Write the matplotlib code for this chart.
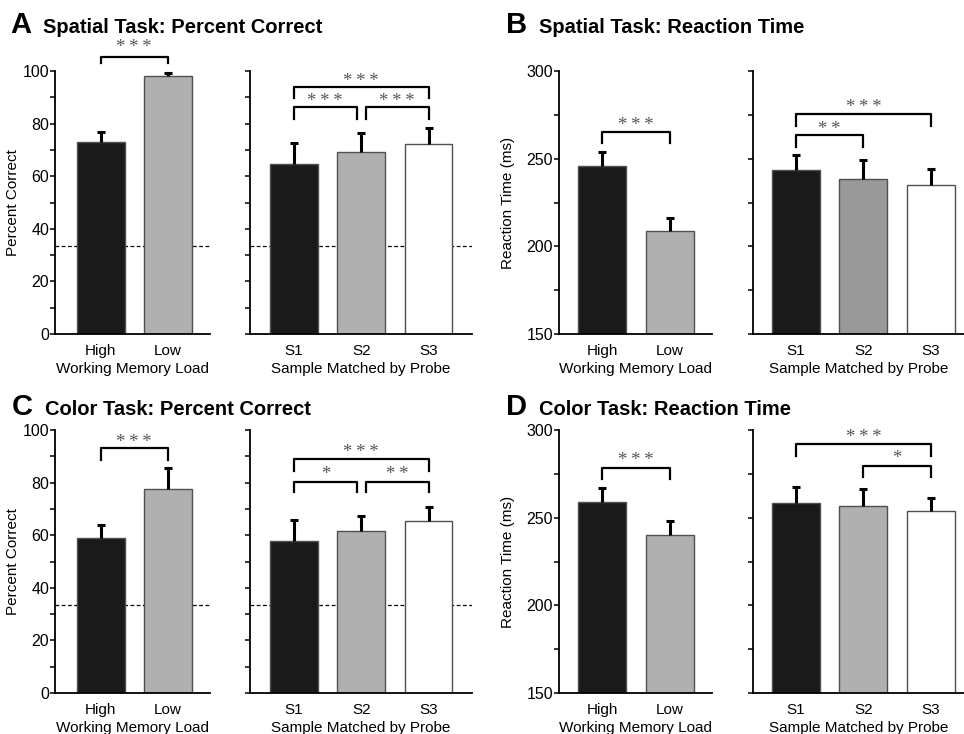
import matplotlib.pyplot as plt
from matplotlib.ticker import MultipleLocator

plt.rcParams['font.family'] = ['Liberation Sans', 'DejaVu Sans']

# ---- data ----
load_labels = ['High', 'Low']
sample_labels = ['S1', 'S2', 'S3']

# A: spatial task, percent correct
spa_pc_load = [73.0, 98.0]
spa_pc_load_err = [4.0, 1.5]
spa_pc_samp = [64.7, 69.2, 72.3]
spa_pc_samp_err = [7.8, 7.3, 6.2]

# B: spatial task, reaction time
spa_rt_load = [246.0, 209.0]
spa_rt_load_err = [8.0, 7.0]
spa_rt_samp = [243.5, 238.5, 235.0]
spa_rt_samp_err = [8.5, 11.0, 9.0]

# C: color task, percent correct
col_pc_load = [59.0, 77.5]
col_pc_load_err = [4.8, 8.0]
col_pc_samp = [57.7, 61.5, 65.5]
col_pc_samp_err = [8.0, 6.0, 5.3]

# D: color task, reaction time
col_rt_load = [259.0, 240.0]
col_rt_load_err = [8.0, 8.0]
col_rt_samp = [258.5, 256.5, 254.0]
col_rt_samp_err = [9.0, 10.0, 7.5]

chance = 33.3

# significance brackets: (i, j, top, leg_bottom, stars, star_y)
spa_pc_load_sig = [(0, 1, 105.3, 103.0, '***', 109.0)]
spa_pc_samp_sig = [(0, 2, 93.9, 89.7, '***', 96.0),
                   (0, 0.93, 86.3, 81.7, '***', 88.5),
                   (1.07, 2, 86.3, 81.7, '***', 88.5)]
spa_rt_load_sig = [(0, 1, 265.2, 258.9, '***', 269.2)]
spa_rt_samp_sig = [(0, 2, 275.5, 268.7, '***', 279.5),
                   (0, 1, 263.5, 256.7, '**', 267.0)]
col_pc_load_sig = [(0, 1, 93.1, 88.5, '***', 95.3)]
col_pc_samp_sig = [(0, 2, 88.9, 84.4, '***', 91.5),
                   (0, 0.93, 80.2, 76.3, '*', 83.1),
                   (1.07, 2, 80.2, 76.3, '**', 83.1)]
col_rt_load_sig = [(0, 1, 278.4, 272.0, '***', 282.5)]
col_rt_samp_sig = [(0, 2, 292.0, 285.0, '***', 296.1),
                   (1, 2, 279.5, 273.0, '*', 284.1)]

BLACK = '#1a1a1a'
GRAY = '#b0b0b0'
DGRAY = '#999999'

fig = plt.figure(figsize=(9.64, 7.34), dpi=100)


def panel(rect, xlim, vals, errs, labels, colors, ylim, major, minor,
          sig, xlabel, ylabel=None, chance_line=False, show_labels=True):
    ax = fig.add_axes(rect)
    x = list(range(len(vals)))
    if chance_line:
        ax.axhline(chance, color='black', lw=0.9, ls=(0, (3, 2)), zorder=1)
    ax.bar(x, vals, width=0.71, color=colors, edgecolor='#505050',
           linewidth=1.0, zorder=2)
    # upper-only error bars with a cap at the top
    tops = [v + e for v, e in zip(vals, errs)]
    ax.vlines(x, vals, tops, color='black', lw=2.2, zorder=3)
    ax.plot(x, tops, ls='none', marker='_', ms=6, mew=2.2, color='black',
            zorder=3)
    for i, j, top, bot, stars, sy in sig:
        ax.plot([i, i, j, j], [bot, top, top, bot], color='black', lw=1.6,
                clip_on=False, zorder=4)
        ax.text((i + j) / 2, sy, '\u2009'.join(stars), ha='center',
                va='center', fontsize=13.5, color='#555555',
                family=['Liberation Serif', 'DejaVu Serif'], clip_on=False)
    ax.set_xlim(*xlim)
    ax.set_ylim(*ylim)
    ax.yaxis.set_major_locator(MultipleLocator(major))
    ax.yaxis.set_minor_locator(MultipleLocator(minor))
    ax.tick_params(axis='y', which='both', direction='out', length=3.5,
                   width=1.1, labelsize=11.5, pad=0.8, labelleft=show_labels)
    ax.tick_params(axis='x', length=0, labelsize=11, pad=7)
    ax.set_xticks(x)
    ax.set_xticklabels(labels)
    ax.set_xlabel(xlabel, fontsize=11, labelpad=3)
    if ylabel:
        ax.set_ylabel(ylabel, fontsize=11, labelpad=ylabel_pad[ylabel])
    for s in ['top', 'right']:
        ax.spines[s].set_visible(False)
    for s in ['left', 'bottom']:
        ax.spines[s].set_linewidth(1.3)
    return ax


ylabel_pad = {'Percent Correct': 2, 'Reaction Time (ms)': 8}

top_b, bot_b, h = 0.545, 0.0559, 0.358
load_x = (-0.674, 1.622)
samp_x = (-0.654, 2.645)

# A
panel([0.0571, top_b, 0.1608, h], load_x, spa_pc_load, spa_pc_load_err,
      load_labels, [BLACK, GRAY], (0, 100), 20, 10, spa_pc_load_sig,
      'Working Memory Load', 'Percent Correct', chance_line=True)
panel([0.2593, top_b, 0.2303, h], samp_x, spa_pc_samp, spa_pc_samp_err,
      sample_labels, [BLACK, GRAY, 'white'], (0, 100), 20, 10,
      spa_pc_samp_sig, 'Sample Matched by Probe', chance_line=True,
      show_labels=False)
# B
panel([0.5799, top_b, 0.1587, h], (-0.632, 1.618), spa_rt_load,
      spa_rt_load_err, load_labels, [BLACK, GRAY], (150, 300), 50, 25,
      spa_rt_load_sig, 'Working Memory Load', 'Reaction Time (ms)')
panel([0.7811, top_b, 0.2189, h], (-0.637, 2.49), spa_rt_samp,
      spa_rt_samp_err, sample_labels, [BLACK, DGRAY, 'white'], (150, 300),
      50, 25, spa_rt_samp_sig, 'Sample Matched by Probe', show_labels=False)
# C
panel([0.0571, bot_b, 0.1608, h], load_x, col_pc_load, col_pc_load_err,
      load_labels, [BLACK, GRAY], (0, 100), 20, 10, col_pc_load_sig,
      'Working Memory Load', 'Percent Correct', chance_line=True)
panel([0.2593, bot_b, 0.2303, h], samp_x, col_pc_samp, col_pc_samp_err,
      sample_labels, [BLACK, GRAY, 'white'], (0, 100), 20, 10,
      col_pc_samp_sig, 'Sample Matched by Probe', chance_line=True,
      show_labels=False)
# D
panel([0.5799, bot_b, 0.1587, h], (-0.632, 1.618), col_rt_load,
      col_rt_load_err, load_labels, [BLACK, GRAY], (150, 300), 50, 25,
      col_rt_load_sig, 'Working Memory Load', 'Reaction Time (ms)')
panel([0.7811, bot_b, 0.2189, h], (-0.637, 2.49), col_rt_samp,
      col_rt_samp_err, sample_labels, [BLACK, GRAY, 'white'], (150, 300),
      50, 25, col_rt_samp_sig, 'Sample Matched by Probe', show_labels=False)

# panel letters and titles
titles = [('A', 'Spatial Task: Percent Correct', 10, 33),
          ('B', 'Spatial Task: Reaction Time', 506, 33),
          ('C', 'Color Task: Percent Correct', 12, 415),
          ('D', 'Color Task: Reaction Time', 506, 415)]
for letter, text, px, py in titles:
    fig.text(px / 964, 1 - py / 734, letter, fontsize=21, fontweight='bold',
             ha='left', va='baseline')
    fig.text((px + 33) / 964, 1 - py / 734, text, fontsize=14.5,
             fontweight='bold', ha='left', va='baseline')

fig.savefig('out.png', dpi=100)
